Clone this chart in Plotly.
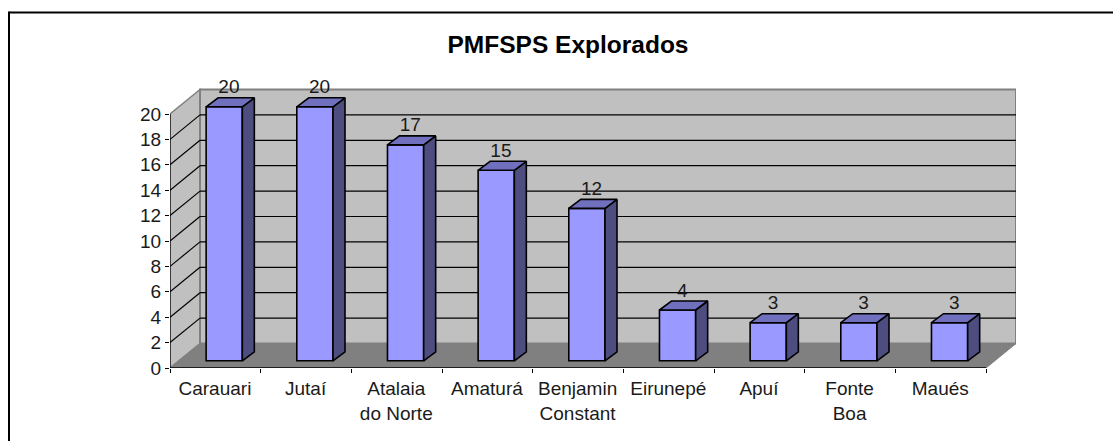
import plotly.graph_objects as go

# ---- data ----
categories = ["Carauari", "Jutaí", "Atalaia<br>do Norte", "Amaturá", "Benjamin<br>Constant",
              "Eirunepé", "Apuí", "Fonte<br>Boa", "Maués"]
values = [20, 20, 17, 15, 12, 4, 3, 3, 3]
y_ticks = list(range(0, 21, 2))
title_text = "PMFSPS Explorados"

# ---- pseudo-3D styling (data units of the two axes) ----
W, H = 1113, 441
L, R, T, B = 170, 1016, 70, 368      # plot area in page pixels
PX_X = (986 - 170) / 9               # pixels per category
PX_Y = (368 - 114) / 20              # pixels per value unit
n = len(categories)
Y_MAX = y_ticks[-1]
wall_dx, wall_dy = 30 / PX_X, 24.5 / PX_Y
bar_dx, bar_dy = 12 / PX_X, 9 / PX_Y
bar_w = 36.2 / PX_X
bar_shift_x, bar_base = 8.9 / PX_X, 7.2 / PX_Y
label_dx, label_dy = 4.7 / PX_X, 18.2 / PX_Y
tick_label_shift = 0.4 / PX_X

C_WALL, C_FLOOR, C_EDGE = "#C0C0C0", "#808080", "#808080"
C_FRONT, C_TOP, C_SIDE = "#9999FF", "#7070BF", "#4D4D80"
FONT = "Liberation Sans, Arial, sans-serif"
TEXT_SIZE = 19


def poly(xs, ys, fill, line, width):
    path = "M" + " L".join(f"{x},{y}" for x, y in zip(xs, ys)) + " Z"
    return dict(type="path", path=path, xref="x", yref="y", layer="below",
                fillcolor=fill, line=dict(color=line, width=width))


def seg(x0, y0, x1, y1, color="#000000", width=1.2):
    return dict(type="line", x0=x0, y0=y0, x1=x1, y1=y1, xref="x", yref="y",
                layer="below", line=dict(color=color, width=width))


shapes = [
    poly([0, wall_dx, wall_dx, 0], [0, wall_dy, Y_MAX + wall_dy, Y_MAX], C_WALL, C_EDGE, 1.5),
    poly([wall_dx, n + wall_dx, n + wall_dx, wall_dx],
         [wall_dy, wall_dy, Y_MAX + wall_dy, Y_MAX + wall_dy], C_WALL, C_EDGE, 2),
    poly([0, n, n + wall_dx, wall_dx], [0, 0, wall_dy, wall_dy], C_FLOOR, C_FLOOR, 1),
]
for v in y_ticks[1:-1]:
    shapes.append(seg(0, v, wall_dx, v + wall_dy))
    shapes.append(seg(wall_dx, v + wall_dy, n + wall_dx, v + wall_dy))
# axis lines stop at the cube's front corner
shapes.append(seg(0, 0, 0, Y_MAX, "#000000", 1.2))
shapes.append(seg(0, 0, n, 0, "#000000", 1.5))

# outer frame: top and left edges only
fx = lambda px: (px - L) / (R - L)
fy = lambda py: (B - py) / (B - T)
shapes.append(dict(type="line", xref="paper", yref="paper", x0=fx(9), x1=fx(W + 2),
                   y0=fy(12.5), y1=fy(12.5), line=dict(color="#000000", width=2)))
shapes.append(dict(type="line", xref="paper", yref="paper", x0=fx(9), x1=fx(9),
                   y0=fy(11.5), y1=fy(H + 2), line=dict(color="#000000", width=2)))

centers = [i + 0.5 for i in range(n)]
front_x = [c + bar_shift_x for c in centers]

fig = go.Figure()
for cx, v in zip(front_x, values):
    x0, x1 = cx - bar_w / 2, cx + bar_w / 2
    top = v + bar_base
    fig.add_trace(go.Scatter(
        x=[x1, x1 + bar_dx, x1 + bar_dx, x1, x1],
        y=[bar_base, bar_base + bar_dy, top + bar_dy, top, bar_base],
        mode="lines", fill="toself", fillcolor=C_SIDE,
        line=dict(color="#000000", width=1.6), hoverinfo="skip", showlegend=False))
    fig.add_trace(go.Scatter(
        x=[x0, x1, x1 + bar_dx, x0 + bar_dx, x0],
        y=[top, top, top + bar_dy, top + bar_dy, top],
        mode="lines", fill="toself", fillcolor=C_TOP,
        line=dict(color="#000000", width=1.6), hoverinfo="skip", showlegend=False))

fig.add_trace(go.Bar(
    x=front_x, y=values, base=bar_base, width=bar_w,
    marker=dict(color=C_FRONT, line=dict(color="#000000", width=1.6)),
    showlegend=False))

fig.add_trace(go.Scatter(
    x=[c + label_dx for c in front_x], y=[v + bar_base + label_dy for v in values],
    mode="text", text=[str(v) for v in values], textposition="middle center",
    textfont=dict(family=FONT, size=TEXT_SIZE, color="#1a1a1a"),
    showlegend=False, cliponaxis=False))

fig.update_layout(
    width=W, height=H, autosize=False,
    margin=dict(l=L, r=W - R, t=T, b=H - B, pad=0),
    paper_bgcolor="#FFFFFF", plot_bgcolor="rgba(0,0,0,0)",
    title=dict(text=f"<b>{title_text}</b>", x=568 / W, xanchor="center", xref="container",
               y=1 - 44 / H, yanchor="middle",
               font=dict(family=FONT, size=24.5, color="#000000")),
    font=dict(family=FONT, size=TEXT_SIZE, color="#1a1a1a"),
    shapes=shapes,
    barmode="overlay",
    xaxis=dict(range=[0, n + wall_dx], showgrid=False, zeroline=False, showline=False,
               tickmode="array", tickvals=[c - tick_label_shift for c in centers],
               ticktext=categories, ticks="",
               tickfont=dict(family=FONT, size=TEXT_SIZE, color="#1a1a1a"), ticklabelstandoff=7,
               minor=dict(tickmode="array", tickvals=list(range(n + 1)), ticks="outside",
                          ticklen=4, tickwidth=1, tickcolor="#000000", showgrid=False)),
    yaxis=dict(range=[0, (B - T) / PX_Y], showgrid=False, zeroline=False, showline=False,
               tickmode="array", tickvals=y_ticks, ticks="outside", ticklen=4, tickwidth=1,
               tickcolor="#000000",
               tickfont=dict(family=FONT, size=TEXT_SIZE, color="#1a1a1a")),
)

fig.write_html("out.html", config={"displayModeBar": False},
               post_script="document.body.style.margin='0';document.body.style.overflow='hidden';")
